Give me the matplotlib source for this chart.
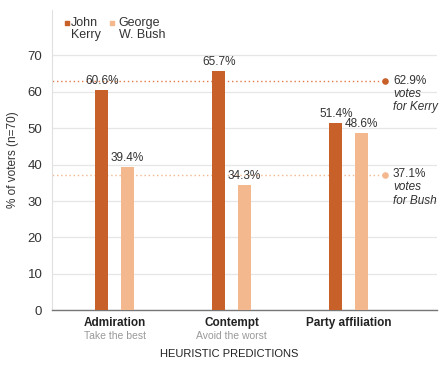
import matplotlib
matplotlib.use("Agg")
import matplotlib.pyplot as plt
import numpy as np

categories = ["Admiration", "Contempt", "Party affiliation"]
subtitles = ["Take the best", "Avoid the worst", ""]
kerry = [60.6, 65.7, 51.4]
bush = [39.4, 34.3, 48.6]
kerry_votes = 62.9
bush_votes = 37.1
yticks = [0, 10, 20, 30, 40, 50, 60, 70]

KERRY_C = "#c8602a"
BUSH_C = "#f4b88f"
KERRY_LINE = "#e37a45"

plt.rcParams["font.family"] = ["Liberation Sans", "DejaVu Sans"]

fig = plt.figure(figsize=(4.45, 3.71), dpi=100)
ax = fig.add_axes([0.117, 0.164, 0.865, 0.81])

x = np.arange(len(categories))
w = 0.11
off = 0.109
ax.bar(x - off, kerry, width=w, color=KERRY_C, zorder=3)
ax.bar(x + off, bush, width=w, color=BUSH_C, zorder=3)

for xi, v in zip(x - off, kerry):
    ax.text(xi, v + 0.8, f"{v}%", ha="center", va="bottom", fontsize=8.5, color="#333333", zorder=4)
for xi, v in zip(x + off, bush):
    ax.text(xi, v + 0.8, f"{v}%", ha="center", va="bottom", fontsize=8.5, color="#333333", zorder=4)

# vote share reference lines
dot_x = 2.31
ax.plot([-0.6, dot_x], [kerry_votes, kerry_votes], linestyle=(0, (1, 2)), color=KERRY_LINE, lw=1.0, zorder=2)
ax.plot([-0.6, dot_x], [bush_votes, bush_votes], linestyle=(0, (1, 2)), color=BUSH_C, lw=1.0, zorder=2)
ax.scatter([dot_x], [kerry_votes], s=14, color=KERRY_C, zorder=4)
ax.scatter([dot_x], [bush_votes], s=14, color=BUSH_C, zorder=4)
ax.text(dot_x + 0.07, kerry_votes + 0.2, f"{kerry_votes}%", ha="left", va="center", fontsize=8.5, color="#333333")
ax.text(dot_x + 0.07, kerry_votes - 5.2, "votes\nfor Kerry", ha="left", va="center", fontsize=8.5,
        color="#333333", style="italic", linespacing=1.15)
ax.text(dot_x + 0.07, bush_votes + 0.2, f"{bush_votes}%", ha="left", va="center", fontsize=8.5, color="#333333")
ax.text(dot_x + 0.07, bush_votes - 5.2, "votes\nfor Bush", ha="left", va="center", fontsize=8.5,
        color="#333333", style="italic", linespacing=1.15)

ax.set_xlim(-0.534, 2.756)
ax.set_ylim(0, 82.6)
ax.set_yticks(yticks)
ax.set_yticklabels([str(t) for t in yticks], fontsize=9.5, color="#333333")
ax.yaxis.grid(True, color="#e6e6e6", lw=0.9, zorder=0)
ax.set_axisbelow(True)
ax.tick_params(axis="y", length=0, pad=7)
ax.tick_params(axis="x", length=0)
ax.set_xticks(x)
ax.set_xticklabels([])
for xi, cat, sub in zip(x, categories, subtitles):
    ax.text(xi, -2.0, cat, ha="center", va="top", fontsize=8.5, fontweight="bold", color="#222222",
            transform=ax.transData, clip_on=False)
    if sub:
        ax.text(xi, -5.6, sub, ha="center", va="top", fontsize=7.5, color="#999999",
                transform=ax.transData, clip_on=False)

for side in ["top", "right"]:
    ax.spines[side].set_visible(False)
ax.spines["left"].set_color("#e0e0e0")
ax.spines["bottom"].set_color("#777777")
ax.spines["bottom"].set_linewidth(1.0)

ax.set_ylabel("% of voters (n=70)", fontsize=8.5, color="#333333", labelpad=6)
fig.text(229 / 445, 1 - 354 / 371, "HEURISTIC PREDICTIONS", ha="center", va="center", fontsize=8, color="#222222")

# legend
ax.scatter([-0.41], [79.0], marker="s", s=10, color=KERRY_C, clip_on=False)
ax.text(-0.37, 80.5, "John\nKerry", ha="left", va="top", fontsize=9, color="#333333", linespacing=1.0)
ax.scatter([-0.02], [79.0], marker="s", s=10, color=BUSH_C, clip_on=False)
ax.text(0.035, 80.5, "George\nW. Bush", ha="left", va="top", fontsize=9, color="#333333", linespacing=1.0)

fig.savefig("out.png", dpi=100)
